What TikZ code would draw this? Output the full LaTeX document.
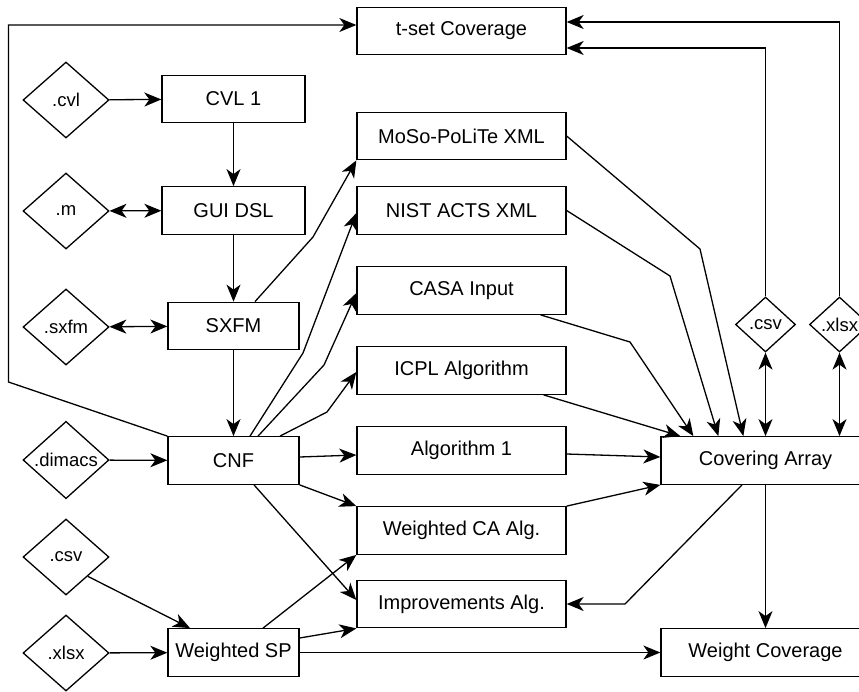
\documentclass[tikz,border=0pt]{standalone}
\usepackage{fontspec}
\setmainfont{Liberation Sans}
\usepackage{tikz}
\usetikzlibrary{arrows.meta,shapes.geometric}

\begin{document}
\begin{tikzpicture}[x=1pt,y=-1pt,line width=1.3pt,
    box/.style={draw,rectangle,minimum height=47.5pt,inner sep=0pt,font=\fontsize{20}{24}\selectfont},
    wide/.style={box,minimum width=209pt},
    file/.style={draw,diamond,minimum width=86pt,minimum height=76pt,inner sep=0pt,font=\fontsize{18.5}{22}\selectfont},
    smallfile/.style={file,minimum width=60pt,minimum height=55pt},
    arr/.style={-{Stealth[length=17pt,width=14pt,inset=5pt]}},
    darr/.style={{Stealth[length=17pt,width=14pt,inset=5pt]}-{Stealth[length=17pt,width=14pt,inset=5pt]}}]
            \useasboundingbox (0,0) rectangle (859,691);
            \clip (0,0) rectangle (859,691);
            \node[wide] (tset) at (461.5,31) {t-set Coverage};
            \node[box,minimum width=143pt] (cvl) at (233.5,99) {CVL 1};
            \node[box,minimum width=143pt] (gui) at (233.5,210.5) {GUI DSL};
            \node[box,minimum width=131pt] (sxfm) at (233.5,326) {SXFM};
            \node[box,minimum width=131pt] (cnf) at (233.5,460.5) {CNF};
            \node[box,minimum width=131pt] (wsp) at (233.5,652.5) {Weighted SP};
            \node[file] (fcvl) at (66,100) {.cvl};
            \node[file] (fm) at (66,211) {.m};
            \node[file] (fsxfm) at (66,327) {.sxfm};
            \node[file] (fdimacs) at (66,460) {.dimacs};
            \node[file] (fcsv) at (66,557) {.csv};
            \node[file] (fxlsx) at (66,653) {.xlsx};
            \node[wide] (moso) at (461.5,136) {MoSo-PoLiTe XML};
            \node[wide] (nist) at (461.5,210.5) {NIST ACTS XML};
            \node[wide] (casa) at (461.5,290.5) {CASA Input};
            \node[wide] (icpl) at (461.5,370.5) {ICPL Algorithm};
            \node[wide] (algo) at (461.5,450.5) {Algorithm 1};
            \node[wide] (wca) at (461.5,530.5) {Weighted CA Alg.};
            \node[wide] (imp) at (461.5,604) {Improvements Alg.};
            \node[wide] (ca) at (765.5,460.5) {Covering Array};
            \node[wide] (wc) at (765.5,652.5) {Weight Coverage};
            \node[smallfile] (rcsv) at (765.5,324.5) {.csv};
            \node[smallfile] (rxlsx) at (839.5,324.5) {.xlsx};
            \draw[arr] (fcvl) -- (cvl);
            \draw[arr] (cvl) -- (gui);
            \draw[darr] (fm) -- (gui);
            \draw[arr] (gui) -- (sxfm);
            \draw[darr] (fsxfm) -- (sxfm);
            \draw[arr] (sxfm) -- (cnf);
            \draw[arr] (fdimacs) -- (cnf);
            \draw[arr] (fcsv.south east) -- ([xshift=-43.5pt]wsp.north);
            \draw[arr] (fxlsx) -- (wsp);
            \draw[arr] (cnf.north west) -- (8.5,382) |- ([yshift=6pt]tset.west);
            \draw[arr] ([xshift=21.5pt]sxfm.north) -- (313,237) -- (moso.south west);
            \draw[arr] ([xshift=16.5pt]cnf.north) -- (303,353) -- ([yshift=-2.5pt]nist.west);
            \draw[arr] ([xshift=24.5pt]cnf.north) -- (324,365) -- ([yshift=-2.5pt]casa.west);
            \draw[arr] ([xshift=46.5pt]cnf.north) -- (327,412) -- ([yshift=-1.5pt]icpl.west);
            \draw[arr] ([yshift=3.5pt]cnf.east) -- ([yshift=-4.5pt]algo.west);
            \draw[arr] (cnf.south east) -- (wca.north west);
            \draw[arr] ([xshift=20.5pt]cnf.south) -- ([yshift=4pt]imp.west);
            \draw[arr] ([xshift=29.5pt]wsp.north) -- (wca.south west);
            \draw[arr] ([yshift=14.5pt]wsp.east) -- (imp.south west);
            \draw[arr] (wsp) -- (wc);
            \draw[arr] (moso.east) -- (700,249) -- ([xshift=83pt]ca.north west);
            \draw[arr] (nist.east) -- (670,276) -- ([xshift=58pt]ca.north west);
            \draw[arr] ([xshift=-26pt]casa.south east) -- (630,342) -- ([xshift=33pt]ca.north west);
            \draw[arr] ([xshift=-23pt]icpl.south east) -- ([xshift=20pt]ca.north west);
            \draw[arr] ([yshift=-3.5pt]algo.east) -- ([yshift=3.5pt]ca.west);
            \draw[arr] (wca.north east) -- (ca.south west);
            \draw[arr] ([xshift=-23.5pt]ca.south) -- (625,604) -- (imp.east);
            \draw[arr] (ca) -- (wc);
            \draw[darr] (rcsv.south) -- (rcsv.south |- ca.north);
            \draw[darr] (rxlsx.south) -- (rxlsx.south |- ca.north);
            \draw[arr] (rcsv.north) |- ([yshift=-17pt]tset.east);
            \draw[arr] (rxlsx.north) |- ([yshift=9pt]tset.east);
        \end{tikzpicture}
\end{document}
